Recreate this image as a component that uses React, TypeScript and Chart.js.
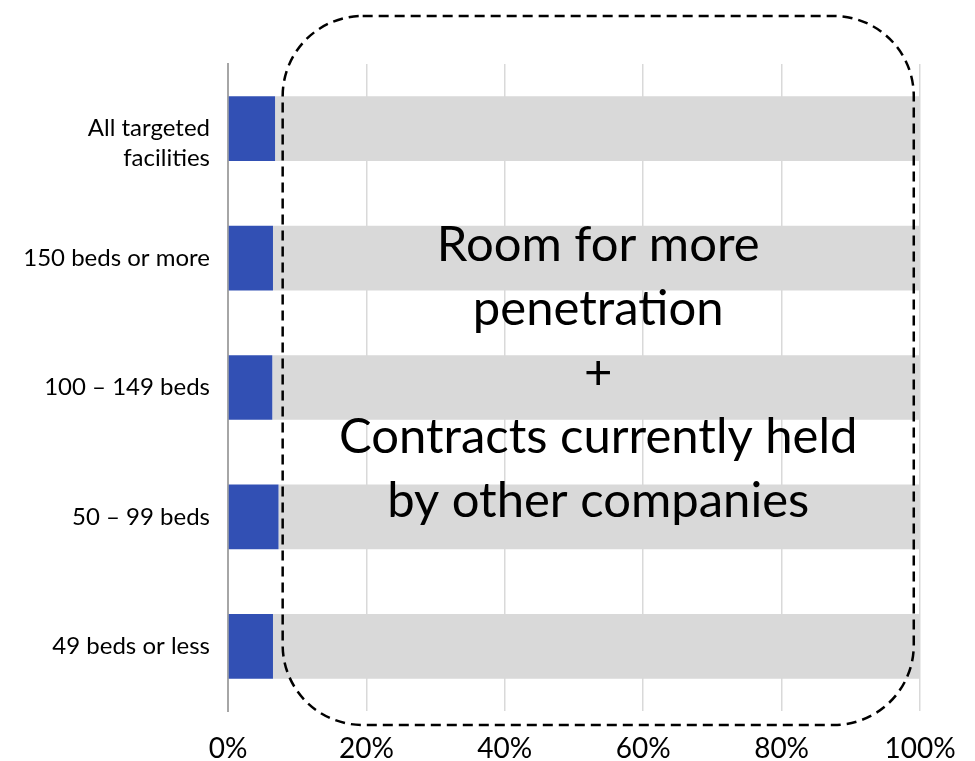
import React, { useEffect, useRef } from "react";
import { Chart, registerables } from "chart.js";

Chart.register(...registerables);

const categories: (string | string[])[] = [
  ["", "All targeted", "facilities"],
  "150 beds or more",
  "100 – 149 beds",
  "50 – 99 beds",
  "49 beds or less",
];
const currentShare = [6.8, 6.5, 6.4, 7.3, 6.5];
const remainingShare = currentShare.map((v) => 100 - v);
const xTicks = [0, 20, 40, 60, 80, 100];
const overlayLines = [
  "Room for more",
  "penetration",
  "+",
  "Contracts currently held",
  "by other companies",
];
const boxFrom = 7.9;
const boxTo = 99.1;

const FONT = "Lato, 'Open Sans', sans-serif";

const overlayPlugin = {
  id: "overlay",
  afterDraw(chart: any) {
    const { ctx, chartArea, scales } = chart;
    const x = scales.x;
    const left = x.getPixelForValue(boxFrom);
    const right = x.getPixelForValue(boxTo);
    const top = chartArea.top - 48;
    const bottom = chartArea.bottom + 14;
    const r = 80;
    ctx.save();
    ctx.setLineDash([10, 6]);
    ctx.lineWidth = 2.5;
    ctx.strokeStyle = "#000";
    ctx.beginPath();
    ctx.moveTo(left + r, top);
    ctx.lineTo(right - r, top);
    ctx.arcTo(right, top, right, top + r, r);
    ctx.lineTo(right, bottom - r);
    ctx.arcTo(right, bottom, right - r, bottom, r);
    ctx.lineTo(left + r, bottom);
    ctx.arcTo(left, bottom, left, bottom - r, r);
    ctx.lineTo(left, top + r);
    ctx.arcTo(left, top, left + r, top, r);
    ctx.closePath();
    ctx.stroke();
    ctx.setLineDash([]);
    ctx.fillStyle = "#000";
    ctx.font = `49px ${FONT}`;
    ctx.textAlign = "center";
    ctx.textBaseline = "middle";
    const cx = (left + right) / 2;
    const startY = 245;
    overlayLines.forEach((line, i) => {
      ctx.fillText(line, cx, startY + i * 64);
    });
    ctx.restore();
  },
};

export default function App() {
  const ref = useRef<HTMLCanvasElement>(null);
  useEffect(() => {
    if (!ref.current) return;
    const chart = new Chart(ref.current, {
      type: "bar",
      data: {
        labels: categories as any,
        datasets: [
          {
            data: currentShare,
            backgroundColor: "#3250b4",
            barPercentage: 0.5,
            categoryPercentage: 1,
          },
          {
            data: remainingShare,
            backgroundColor: "#d9d9d9",
            barPercentage: 0.5,
            categoryPercentage: 1,
          },
        ],
      },
      options: {
        indexAxis: "y",
        animation: false,
        responsive: false,
        maintainAspectRatio: false,
        layout: { padding: { top: 64, right: 55, left: 0, bottom: 0 } },
        plugins: { legend: { display: false }, tooltip: { enabled: false } },
        scales: {
          x: {
            stacked: true,
            min: 0,
            max: 100,
            afterBuildTicks: (scale: any) => {
              scale.ticks = xTicks.map((v) => ({ value: v }));
            },
            afterFit: (scale: any) => {
              scale.height = 50;
              scale.paddingLeft = 0;
              scale.paddingRight = 0;
            },
            ticks: {
              callback: (v: any) => `${v}%`,
              color: "#000",
              font: { family: FONT, size: 28 },
              padding: 21,
              maxRotation: 0,
            },
            grid: { color: "#d9d9d9", lineWidth: 1.5, drawTicks: false },
            border: { display: false },
          },
          y: {
            stacked: true,
            afterFit: (scale: any) => {
              scale.width = 228;
              scale.paddingTop = 0;
              scale.paddingBottom = 0;
            },
            ticks: {
              color: "#000",
              font: { family: FONT, size: 24, lineHeight: 1.25 },
              padding: 18,
            },
            grid: { display: false, drawTicks: false },
            border: { display: true, color: "#a6a6a6", width: 2 },
          },
        },
      },
      plugins: [overlayPlugin],
    });
    return () => chart.destroy();
  }, []);
  return (
    <div style={{ position: "fixed", left: 0, top: 0, width: 975, height: 761, background: "#fff" }}>
      <canvas ref={ref} width={975} height={761} style={{ width: 975, height: 761 }} />
    </div>
  );
}
